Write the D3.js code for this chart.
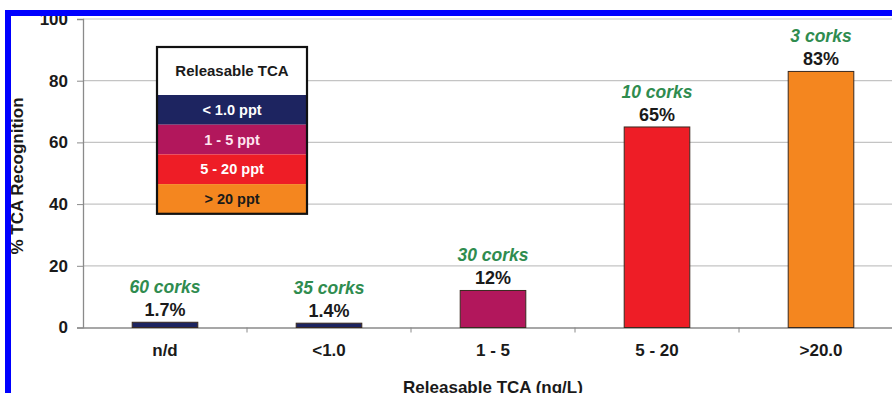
<!DOCTYPE html>
<html><head><meta charset="utf-8">
<script src="https://cdn.jsdelivr.net/npm/d3@7"></script>
<style>body{margin:0;background:#fff}svg{display:block;font-family:Arial,"Liberation Sans",sans-serif}</style>
</head><body>
<svg id="c" width="892" height="393"></svg>
<script>
const categories = ["n/d", "<1.0", "1 - 5", "5 - 20", ">20.0"];
const values = [1.7, 1.4, 12, 65, 83];
const valueLabels = ["1.7%", "1.4%", "12%", "65%", "83%"];
const corkLabels = ["60 corks", "35 corks", "30 corks", "10 corks", "3 corks"];
const barColors = ["#1d2460", "#1d2460", "#b2175c", "#ee1d26", "#f4861f"];
const yTicks = [0, 20, 40, 60, 80, 100];
const legendTitle = "Releasable TCA";
const legendLabels = ["< 1.0 ppt", "1 - 5 ppt", "5 - 20 ppt", "> 20 ppt"];
const legendColors = ["#1d2460", "#b2175c", "#ee1d26", "#f4861f"];
const legendTextColors = ["#ffffff", "#ffe6f0", "#ffffff", "#1a1a1a"];

const svg = d3.select("#c");
const x = d3.scaleBand().domain(categories).range([83, 903]).paddingInner(0.6).paddingOuter(0.3);
const xb = d3.scaleBand().domain(categories).range([83, 903]).padding(0);
const y = d3.scaleLinear().domain([0, 100]).range([327.5, 19]);

// gridlines
svg.append("g").selectAll("line").data(yTicks.filter(d => d > 0)).join("line")
  .attr("x1", 83).attr("x2", 892).attr("y1", d => y(d)).attr("y2", d => y(d))
  .attr("stroke", "#c4c4c4").attr("stroke-width", 1.2);

// y axis
const ya = svg.append("g").attr("transform", "translate(83,0)")
  .call(d3.axisLeft(y).tickValues(yTicks).tickSize(6).tickPadding(9));
ya.select(".domain").attr("stroke", "#8a8a8a").attr("stroke-width", 1.3);
ya.selectAll(".tick line").attr("stroke", "#8a8a8a");
ya.selectAll(".tick text").attr("font-size", 17).attr("font-weight", "bold").attr("fill", "#1a1a1a")
  .attr("font-family", "Arial, 'Liberation Sans', sans-serif");

// x axis
const xa = svg.append("g").attr("transform", `translate(0,${y(0)})`)
  .call(d3.axisBottom(xb).tickSize(0).tickPadding(28));
xa.select(".domain").attr("stroke", "#8a8a8a").attr("stroke-width", 1.5);
xa.selectAll(".tick text").attr("font-size", 17).attr("font-weight", "bold").attr("fill", "#1a1a1a")
  .attr("font-family", "Arial, 'Liberation Sans', sans-serif").attr("dy", "0");
svg.append("g").selectAll("line").data(categories.slice(1)).join("line")
  .attr("x1", d => xb(d)).attr("x2", d => xb(d)).attr("y1", y(0)).attr("y2", y(0) + 5)
  .attr("stroke", "#8a8a8a").attr("stroke-width", 1);

// bars
svg.append("g").selectAll("rect").data(categories).join("rect")
  .attr("x", d => x(d)).attr("width", x.bandwidth())
  .attr("y", (d, i) => y(values[i])).attr("height", (d, i) => y(0) - y(values[i]))
  .attr("fill", (d, i) => barColors[i]).attr("stroke", "#3a2a20").attr("stroke-width", 1);

// value labels
svg.append("g").selectAll("text").data(categories).join("text")
  .attr("x", d => x(d) + x.bandwidth() / 2).attr("y", (d, i) => y(values[i]) - 6)
  .attr("text-anchor", "middle").attr("font-size", 18).attr("font-weight", "bold").attr("fill", "#1a1a1a")
  .text((d, i) => valueLabels[i]);
svg.append("g").selectAll("text").data(categories).join("text")
  .attr("x", d => x(d) + x.bandwidth() / 2).attr("y", (d, i) => y(values[i]) - 29)
  .attr("text-anchor", "middle").attr("font-size", 17.5).attr("font-weight", "bold").attr("font-style", "italic")
  .attr("fill", "#2f8c4f")
  .text((d, i) => corkLabels[i]);

// axis titles
svg.append("text").attr("transform", "translate(23,176) rotate(-90)")
  .attr("text-anchor", "middle").attr("font-size", 17).attr("font-weight", "bold").attr("fill", "#1a1a1a")
  .text("% TCA Recognition");
svg.append("text").attr("x", 493).attr("y", 393)
  .attr("text-anchor", "middle").attr("font-size", 17).attr("font-weight", "bold").attr("fill", "#1a1a1a")
  .text("Releasable TCA (ng/L)");

// legend
const lg = svg.append("g").attr("transform", "translate(157,47)");
const lw = 150, th = 48, rh = 29.7;
lg.append("rect").attr("width", lw).attr("height", th).attr("fill", "#fff");
lg.append("text").attr("x", lw / 2).attr("y", th / 2 + 5).attr("text-anchor", "middle")
  .attr("font-size", 15).attr("font-weight", "bold").attr("fill", "#1a1a1a").text(legendTitle);
const rows = lg.selectAll("g.row").data(legendLabels).join("g").attr("class", "row")
  .attr("transform", (d, i) => `translate(0,${th + i * rh})`);
rows.append("rect").attr("width", lw).attr("height", rh).attr("fill", (d, i) => legendColors[i]);
rows.append("text").attr("x", lw / 2).attr("y", rh / 2 + 5).attr("text-anchor", "middle")
  .attr("font-size", 14.5).attr("font-weight", "bold").attr("fill", (d, i) => legendTextColors[i]).text(d => d);
lg.append("rect").attr("width", lw).attr("height", th + rh * legendLabels.length)
  .attr("fill", "none").attr("stroke", "#111").attr("stroke-width", 2.2);

// blue frame
svg.append("rect").attr("x", 5).attr("y", 10).attr("width", 887).attr("height", 6).attr("fill", "#0000ff");
svg.append("rect").attr("x", 5).attr("y", 10).attr("width", 6).attr("height", 383).attr("fill", "#0000ff");
</script>
</body></html>
